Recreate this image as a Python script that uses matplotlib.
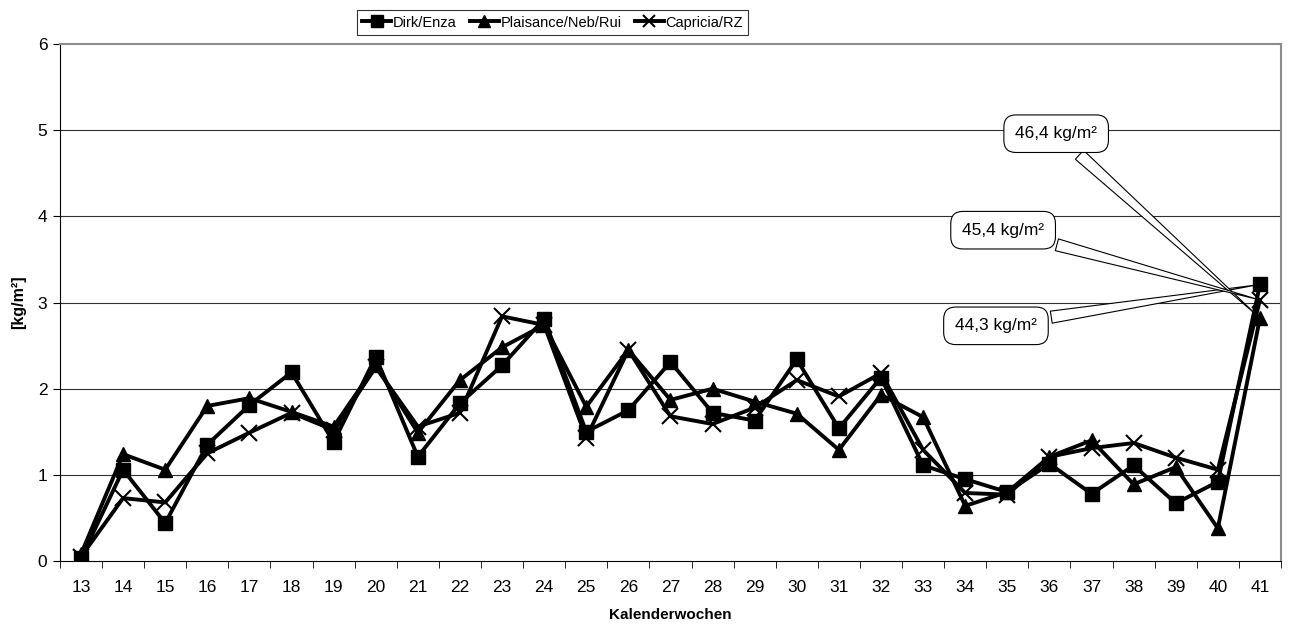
import matplotlib.pyplot as plt
import numpy as np

plt.rcParams['font.family'] = ['Liberation Sans', 'DejaVu Sans']

weeks = list(range(13, 42))
dirk_enza = [0.03, 1.06, 0.44, 1.35, 1.81, 2.19, 1.38, 2.37, 1.21, 1.83,
             2.27, 2.81, 1.50, 1.75, 2.31, 1.72, 1.63, 2.34, 1.54, 2.13,
             1.11, 0.95, 0.80, 1.13, 0.78, 1.11, 0.67, 0.92, 3.21]
plaisance = [0.08, 1.24, 1.06, 1.80, 1.89, 1.73, 1.56, 2.27, 1.49, 2.10,
             2.48, 2.74, 1.79, 2.45, 1.87, 2.00, 1.85, 1.71, 1.29, 1.93,
             1.67, 0.64, 0.80, 1.21, 1.40, 0.89, 1.09, 0.38, 2.82]
capricia = [0.05, 0.73, 0.68, 1.25, 1.49, 1.72, 1.52, 2.25, 1.56, 1.72,
            2.84, 2.74, 1.43, 2.45, 1.68, 1.59, 1.78, 2.10, 1.91, 2.18,
            1.29, 0.79, 0.77, 1.21, 1.31, 1.37, 1.20, 1.06, 3.03]

labels = ['Dirk/Enza', 'Plaisance/Neb/Rui', 'Capricia/RZ']
totals = ['44,3 kg/m²', '46,4 kg/m²', '45,4 kg/m²']
box_pos = [(21.73, 2.73), (23.16, 4.96), (21.9, 3.84)]

x = np.arange(len(weeks))

fig = plt.figure(figsize=(12.89, 6.30), dpi=100)
ax = fig.add_axes([0.0465, 0.1095, 0.9473, 0.8205])

ax.plot(x, dirk_enza, color='black', lw=2.8, marker='s', ms=10, label=labels[0], zorder=3)
ax.plot(x, plaisance, color='black', lw=2.8, marker='^', ms=10, label=labels[1], zorder=3)
ax.plot(x, capricia, color='black', lw=2.8, marker='x', ms=11, mew=1.5, label=labels[2], zorder=3)

ax.set_xlim(-0.5, len(weeks) - 0.5)
ax.set_ylim(0, 6)
ax.set_yticks(range(0, 7))
ax.set_xticks(x)
ax.set_xticklabels([str(w) for w in weeks])
ax.set_xticks(np.arange(-0.5, len(weeks)), minor=True)
ax.tick_params(axis='x', which='major', length=0, labelsize=12.5, pad=14)
ax.tick_params(axis='x', which='minor', length=5, direction='out', color='black')
ax.tick_params(axis='y', length=5, direction='out', labelsize=12.5, pad=4)

for yv in range(1, 6):
    ax.axhline(yv, color='#303030', lw=0.8, zorder=1)

ax.spines['left'].set_color('black')
ax.spines['bottom'].set_color('black')
ax.spines['top'].set_color('#8c8c8c')
ax.spines['right'].set_color('#8c8c8c')
ax.spines['top'].set_linewidth(1.5)
ax.spines['right'].set_linewidth(1.5)

ax.set_xlabel('Kalenderwochen', fontweight='bold', fontsize=11, labelpad=9)
ax.set_ylabel('[kg/m²]', fontweight='bold', fontsize=11.5, labelpad=8)

series = [dirk_enza, plaisance, capricia]
for s, txt, pos in zip(series, totals, box_pos):
    ax.annotate(txt, xy=(x[-1], s[-1]), xytext=pos, ha='center', va='center',
                fontsize=12.5, zorder=5,
                bbox=dict(boxstyle='round,pad=0.65,rounding_size=0.7', fc='white', ec='black', lw=0.8),
                arrowprops=dict(arrowstyle='wedge,tail_width=0.7,shrink_factor=0.5',
                                fc='white', ec='black', lw=0.8))

leg = fig.legend(loc='upper center', bbox_to_anchor=(0.4286, 0.995), ncol=3, frameon=True,
                 fancybox=False, edgecolor='black', fontsize=10.5, handlelength=2.0,
                 handletextpad=0.1, columnspacing=0.9, borderpad=0.35, markerscale=0.8)
leg.get_frame().set_linewidth(0.8)

fig.savefig('out.png', dpi=100)
